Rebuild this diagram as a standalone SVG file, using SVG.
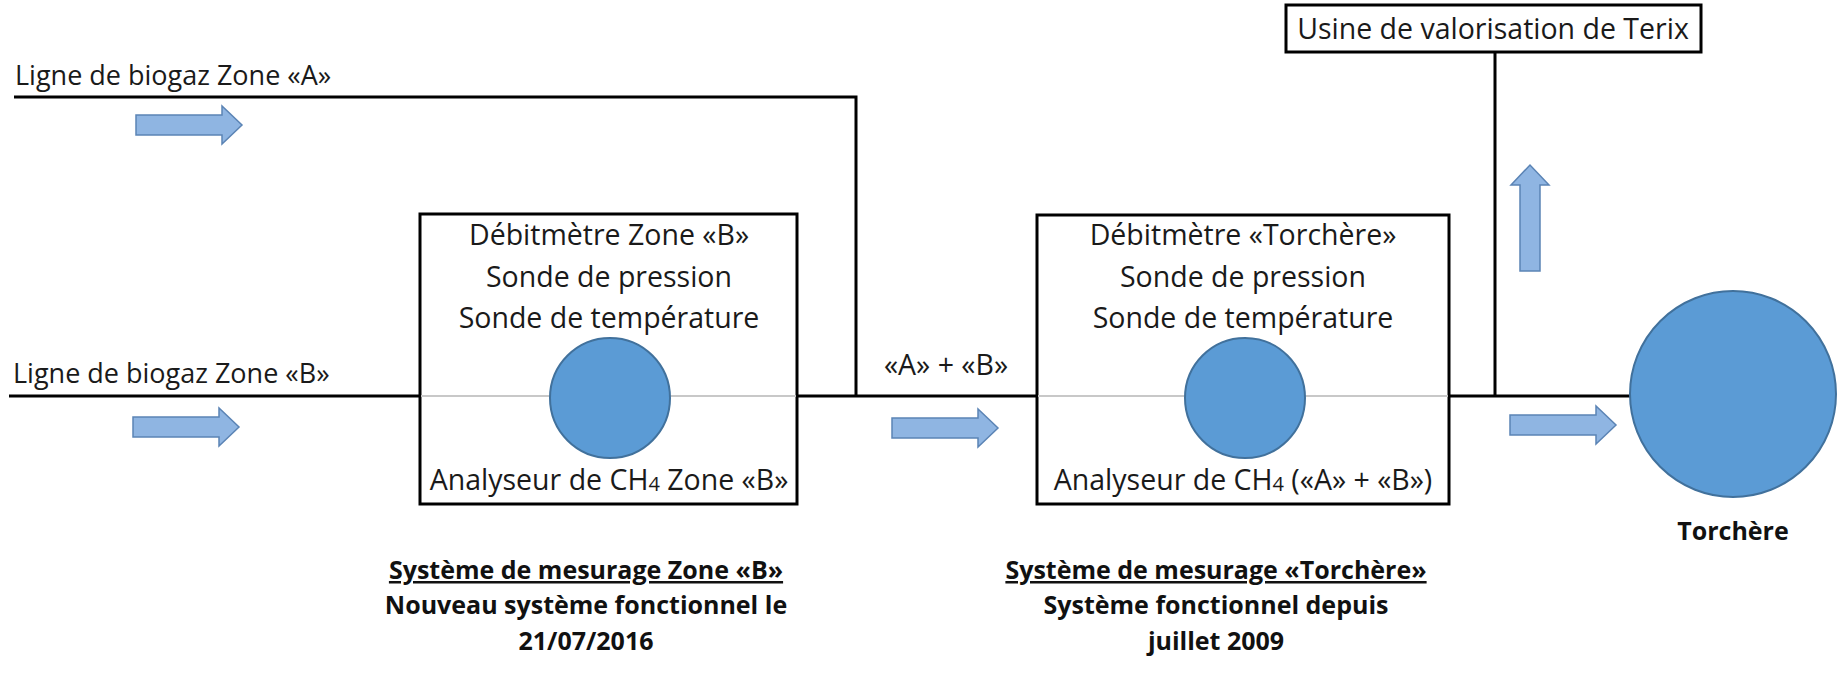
<svg xmlns="http://www.w3.org/2000/svg" width="1838" height="678" viewBox="0 0 1838 678">
<style>
.t{font-family:"Open Sans","Liberation Sans",sans-serif;font-size:28.5px;fill:#1a1a1a}
.l{font-size:27px}
.c{text-anchor:middle}
.b{font-family:"Open Sans","Liberation Sans",sans-serif;font-weight:bold;font-size:25px;fill:#111;text-anchor:middle}
.pipe{stroke:#000;stroke-width:3;fill:none}
.gray{stroke:#c8c8c8;stroke-width:2;fill:none}
.box{fill:#fff;stroke:#000;stroke-width:3}
.circ{fill:#5b9bd5;stroke:#41719c;stroke-width:2}
.arr{fill:#8fb5e2;stroke:#5b84b5;stroke-width:1.5}
</style>
<defs>
<path id="ar" d="M0,-10 H86 V-19 L106,0 L86,19 V10 H0 Z"/>
</defs>
<g id="connectors">
<path class="pipe" d="M14,97 H856 V396"/>
<path class="pipe" d="M9,396 H420"/>
<path class="pipe" d="M797,396 H1037"/>
<path class="pipe" d="M1449,396 H1632"/>
<path class="pipe" d="M1495,52 V396"/>
</g>
<g id="boxB">
<rect class="box" x="420" y="214" width="377" height="290"/>
<line class="gray" x1="421" y1="396" x2="796" y2="396"/>
<circle class="circ" cx="610" cy="398" r="60"/>
<text class="t c" x="609" y="245">Débitmètre Zone «B»</text>
<text class="t c" x="609" y="287">Sonde de pression</text>
<text class="t c" x="609" y="328">Sonde de température</text>
<text class="t c" x="609" y="490">Analyseur de CH<tspan font-size="20" dy="1">4</tspan><tspan dy="-1"> Zone «B»</tspan></text>
</g>
<g id="boxTorchere">
<rect class="box" x="1037" y="215" width="412" height="289"/>
<line class="gray" x1="1038" y1="396" x2="1448" y2="396"/>
<circle class="circ" cx="1245" cy="398" r="60"/>
<text class="t c" x="1243" y="245">Débitmètre «Torchère»</text>
<text class="t c" x="1243" y="287">Sonde de pression</text>
<text class="t c" x="1243" y="328">Sonde de température</text>
<text class="t c" x="1243" y="490">Analyseur de CH<tspan font-size="20" dy="1">4</tspan><tspan dy="-1"> («A» + «B»)</tspan></text>
</g>
<g id="terix">
<rect class="box" x="1286" y="5" width="415" height="47"/>
<text class="t c" x="1493" y="39" font-size="29">Usine de valorisation de Terix</text>
</g>
<g id="torchere">
<circle class="circ" cx="1733" cy="394" r="103"/>
<text class="b" x="1733" y="540" font-size="32">Torchère</text>
</g>
<g id="labels">
<text class="t l" x="15" y="85">Ligne de biogaz Zone «A»</text>
<text class="t l" x="13" y="383">Ligne de biogaz Zone «B»</text>
<text class="t c" x="946" y="375" font-size="29">«A» + «B»</text>
</g>
<g id="arrows">
<use href="#ar" class="arr" transform="translate(136,125)"/>
<use href="#ar" class="arr" transform="translate(133,427)"/>
<use href="#ar" class="arr" transform="translate(892,428)"/>
<use href="#ar" class="arr" transform="translate(1510,425)"/>
<use href="#ar" class="arr" transform="translate(1530,271) rotate(-90)"/>
</g>
<g id="captionB">
<text class="b" x="586" y="579" text-decoration="underline">Système de mesurage Zone «B»</text>
<text class="b" x="586" y="614">Nouveau système fonctionnel le</text>
<text class="b" x="586" y="650">21/07/2016</text>
</g>
<g id="captionT">
<text class="b" x="1216" y="579" text-decoration="underline">Système de mesurage «Torchère»</text>
<text class="b" x="1216" y="614">Système fonctionnel depuis</text>
<text class="b" x="1216" y="650">juillet 2009</text>
</g>
</svg>
